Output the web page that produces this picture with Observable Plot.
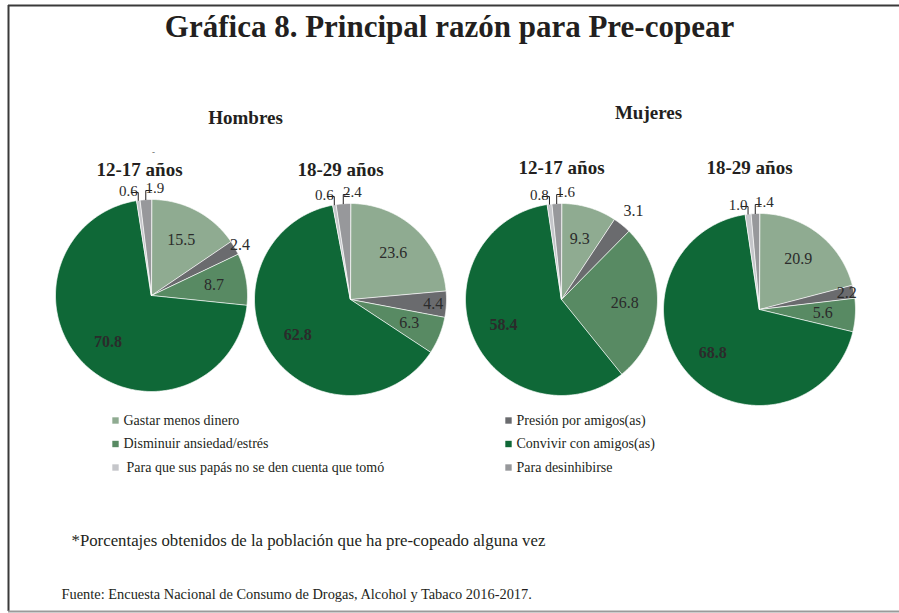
<!DOCTYPE html>
<html><head><meta charset="utf-8">
<script src="https://cdn.jsdelivr.net/npm/d3@7"></script>
<script src="https://cdn.jsdelivr.net/npm/@observablehq/plot@0.6"></script>
<style>body{margin:0;background:#fff;} svg{display:block;}</style>
</head><body><div id="chart"></div>
<script>
// ---- data ----
const categories = ["Gastar menos dinero","Presión por amigos(as)","Disminuir ansiedad/estrés","Convivir con amigos(as)","Para que sus papás no se den cuenta que tomó","Para desinhibirse"];
const colors = ["#8fab91","#6a6b6e","#588a63","#0f6837","#c5c6ca","#97989b"];
const groups = ["Hombres","Mujeres"];
const ages = ["12-17 años","18-29 años"];
const hombres1217 = [15.5,2.4,8.7,70.8,0.6,1.9];
const hombres1829 = [23.6,4.4,6.3,62.8,0.6,2.4];
const mujeres1217 = [9.3,3.1,26.8,58.4,0.8,1.6];
const mujeres1829 = [20.9,2.2,5.6,68.8,1.0,1.4];
const title = "Gráfica 8. Principal razón para Pre-copear";
const note = "*Porcentajes obtenidos de la población que ha pre-copeado alguna vez";
const source = "Fuente: Encuesta Nacional de Consumo de Drogas, Alcohol y Tabaco 2016-2017.";

// ---- layout ----
const W = 899, H = 613, R = 96;
const series = [hombres1217, hombres1829, mujeres1217, mujeres1829];
const pieLayout = [
  {cx:151, cy:295, tx:139, ty:169},
  {cx:350, cy:299, tx:340, ty:169},
  {cx:561, cy:299, tx:561, ty:167},
  {cx:759, cy:309, tx:749, ty:167}
];
const groupLayout = [{x:245, y:117},{x:648, y:112}];
const ink = "#231f20";
const font = "Liberation Serif";

const slicePts = [], labels = [], leaders = [];
series.forEach((vals, p) => {
  const {cx, cy} = pieLayout[p];
  const arcs = d3.pie().sort(null).value(d => d)(vals);
  let smallCount = 0;
  arcs.forEach((a, i) => {
    const id = p + "-" + i;
    slicePts.push({id, cat: categories[i], x: cx, y: cy});
    const n = Math.max(2, Math.ceil((a.endAngle - a.startAngle) / 0.01));
    for (let k = 0; k <= n; k++) {
      const t = a.startAngle + (a.endAngle - a.startAngle) * k / n;
      slicePts.push({id, cat: categories[i], x: cx + R * Math.sin(t), y: cy - R * Math.cos(t)});
    }
    const mid = (a.startAngle + a.endAngle) / 2;
    const v = vals[i];
    const txt = v.toFixed(1);
    if (mid > Math.PI * 2 * 0.92) {
      // tiny slices near 12 o'clock: label above with leader line
      const px = cx + R * Math.sin(mid), py = cy - R * Math.cos(mid);
      const left = smallCount === 0; smallCount++;
      const topY = cy - R - (left ? 7 : 9);
      const hx = left ? px - 7 : px + 6;
      leaders.push({id, x: px, y: py}, {id, x: px, y: topY}, {id, x: hx, y: topY});
      labels.push({text: txt, x: left ? hx - 3 : hx + 3, y: topY - (left ? 1 : 2), anchor: left ? "end" : "start", small: true});
    } else {
      const f = v < 5 ? 0.84 + 0.45 * Math.abs(Math.cos(mid)) : 0.66;
      const rr = R * f;
      labels.push({text: txt, x: cx + rr * Math.sin(mid), y: cy - rr * Math.cos(mid), anchor: "middle", bold: i === 3});
    }
  });
});

const legendItems = categories.map((c, i) => ({
  cat: c,
  sx: i % 2 === 0 ? 115 : 508,
  tx: i % 2 === 0 ? (i === 4 ? 126 : 123) : 516,
  y: 420 + Math.floor(i / 2) * 23.5
}));

const ageTitles = pieLayout.map((l, p) => ({text: ages[p % 2], x: l.tx, y: l.ty}));
const groupTitles = groups.map((g, i) => ({text: g, ...groupLayout[i]}));

const chart = Plot.plot({
  width: W, height: H,
  marginTop: 0, marginRight: 0, marginBottom: 0, marginLeft: 0,
  x: {domain: [0, W], range: [0, W], axis: null},
  y: {domain: [0, H], range: [0, H], axis: null},
  color: {domain: categories, range: colors},
  style: {fontFamily: font, background: "#fff", color: ink},
  marks: [
    // frame
    Plot.ruleX([8], {y1: 5, y2: 611, stroke: "#3a3a3a", strokeWidth: 2}),
    Plot.ruleY([5], {x1: 8, x2: W, stroke: "#3a3a3a", strokeWidth: 2}),
    Plot.ruleY([611], {x1: 8, x2: W, stroke: "#9a9a9a", strokeWidth: 2}),
    // pies
    Plot.line(slicePts, {x: "x", y: "y", z: "id", fill: "cat", stroke: "white", strokeWidth: 0.7, curve: "linear-closed"}),
    Plot.line(leaders, {x: "x", y: "y", z: "id", stroke: ink, strokeWidth: 1}),
    Plot.text(labels.filter(d => d.small), {x: "x", y: "y", text: "text", textAnchor: d => d.anchor, fontSize: 15, fill: "#2b2b2b", fontFamily: font}),
    Plot.text(labels.filter(d => !d.small && !d.bold), {x: "x", y: "y", text: "text", fontSize: 16, fill: "#2b2b2b", fontFamily: font}),
    Plot.text(labels.filter(d => d.bold), {x: "x", y: "y", text: "text", fontSize: 16, fontWeight: "bold", fill: "#2b2b2b", fontFamily: font}),
    // titles
    Plot.text([title], {x: () => 449, y: () => 27, text: d => d, fontSize: 31, fontWeight: "bold", fill: ink, fontFamily: font}),
    Plot.text(groupTitles, {x: "x", y: "y", text: "text", fontSize: 19, fontWeight: "bold", fill: ink, fontFamily: font}),
    Plot.text(ageTitles, {x: "x", y: "y", text: "text", fontSize: 19, fontWeight: "bold", fill: ink, fontFamily: font}),
    Plot.text(["-"], {x: () => 153, y: () => 152, text: d => d, fontSize: 9, fill: "#555", fontFamily: font}),
    // legend
    Plot.dot(legendItems, {x: "sx", y: "y", fill: "cat", symbol: "square", r: 3.6}),
    Plot.text(legendItems, {x: "tx", y: "y", text: "cat", textAnchor: "start", fontSize: 14, fill: ink, fontFamily: font}),
    // notes
    Plot.text([note], {x: () => 71, y: () => 540, text: d => d, textAnchor: "start", fontSize: 16.8, fill: ink, fontFamily: font}),
    Plot.text([source], {x: () => 61, y: () => 594, text: d => d, textAnchor: "start", fontSize: 14.4, fill: ink, fontFamily: font})
  ]
});
document.getElementById("chart").appendChild(chart);
</script>
</body></html>
